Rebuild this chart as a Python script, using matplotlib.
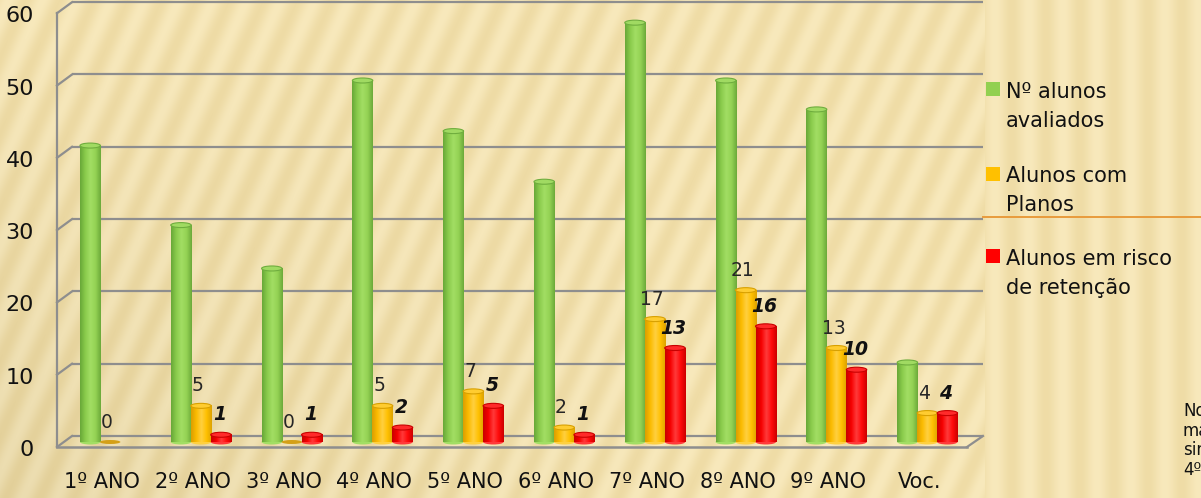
import numpy as np
import matplotlib
matplotlib.use('Agg')
import matplotlib.pyplot as plt
from matplotlib.patches import Ellipse, Rectangle
from matplotlib.colors import LinearSegmentedColormap, to_rgb

# ---------------- data ----------------
categories = ['1º ANO', '2º ANO', '3º ANO', '4º ANO', '5º ANO',
              '6º ANO', '7º ANO', '8º ANO', '9º ANO', 'Voc.']
avaliados = [41, 30, 24, 50, 43, 36, 58, 50, 46, 11]
planos = [0, 5, 0, 5, 7, 2, 17, 21, 13, 4]
risco = [None, 1, 1, 2, 5, 1, 13, 16, 10, 4]
series_labels = ['Nº alunos\navaliados', 'Alunos com\nPlanos', 'Alunos em risco\nde retenção']
y_ticks = [0, 10, 20, 30, 40, 50, 60]
side_note = ['No', 'ma', 'sin', '4º']

# ---------------- geometry / style ----------------
W, H = 1201, 498
X0, DX = 102.0, 90.8      # pixel of category 0, pixels per category
Y0, DY = 442.0, 7.23      # pixel of value 0, pixels per unit

def px2x(px):
    return (px - X0) / DX

def py2y(py):
    return (Y0 - py) / DY

fig = plt.figure(figsize=(W / 100, H / 100), dpi=100)

# background texture (subtle stripes)
bg = fig.add_axes([0, 0, 1, 1], zorder=-10)
yy, xx = np.mgrid[0:H, 0:W]
phase = np.where(xx < 985, xx + 0.45 * yy, xx)
t = 0.5 + 0.5 * np.sin(2 * np.pi * phase / 34.0)
light = np.array(to_rgb('#F8E9BC'))
dark = np.array(to_rgb('#EFDCA6'))
img = dark[None, None, :] * (1 - t[..., None]) + light[None, None, :] * t[..., None]
shade = (yy / H) * np.clip(1 - xx / 700, 0, 1) * 0.05
img = np.clip(img - shade[..., None], 0, 1)
bg.imshow(img, extent=[0, 1, 0, 1], aspect='auto', interpolation='bilinear')
bg.axis('off')

ax = fig.add_axes([0, 0, 1, 1])
ax.patch.set_alpha(0)
ax.axis('off')

grid_c = '#8E8E8E'
back_off = 6 / DY
front_off = -5 / DY
xb_l, xb_r = px2x(72), px2x(983)
xf_l, xf_r = px2x(57), px2x(967)

for v in y_ticks:
    ax.plot([xb_l, xb_r], [v + back_off, v + back_off], color=grid_c, lw=1.6, zorder=1,
            solid_capstyle='butt')
    ax.plot([xf_l, xb_l], [v + front_off, v + back_off], color=grid_c, lw=1.6, zorder=1)
    ax.text(px2x(34), v - 1.94, str(v), ha='right', va='baseline', fontsize=16,
            color='#111111')
ax.plot([xf_l, xf_l], [y_ticks[0] + front_off, y_ticks[-1] + front_off], color=grid_c,
        lw=1.6, zorder=1)
ax.plot([xf_l, xf_r], [front_off, front_off], color=grid_c, lw=1.8, zorder=1)
ax.plot([xf_r, xb_r], [front_off, back_off], color=grid_c, lw=1.6, zorder=1)

# decoration line on the right
ax.plot([xb_r, px2x(W)], [py2y(217), py2y(217)], color='#E89B3C', lw=1.4, zorder=1)

series = [avaliados, planos, risco]
offsets = [-0.13, 0.09, 0.31]
bar_w = 0.225
ell_h = 5 / DY
palettes = [
    dict(grad=['#68A838', '#8ACB4C', '#A2DE64', '#94D254', '#6CAA3A'], top='#A0DA62',
         rim='#6FAD3E', flat='#6AA83A', legend='#92D050'),
    dict(grad=['#DB9E00', '#FBBB00', '#FFD040', '#FFC000', '#DDA200'], top='#FFCC30',
         rim='#D8A000', flat='#D4A017', legend='#FFC000'),
    dict(grad=['#C80000', '#F50000', '#FF3A3A', '#FF0A0A', '#CC0000'], top='#FF2A2A',
         rim='#C80000', flat='#D00000', legend='#FF0000'),
]

for j, (vals, off, pal) in enumerate(zip(series, offsets, palettes)):
    cmap = LinearSegmentedColormap.from_list(f'c{j}', pal['grad'])
    grad = np.linspace(0, 1, 64)[None, :]
    for i, v in enumerate(vals):
        if v is None:
            continue
        xc = i + off
        z = 3 + j * 0.1 + i * 0.01
        if v > 0:
            ax.imshow(grad, cmap=cmap, extent=[xc - bar_w / 2, xc + bar_w / 2, 0, v],
                      aspect='auto', zorder=z, interpolation='bilinear')
            ax.add_patch(Ellipse((xc, 0), bar_w, ell_h, facecolor=pal['grad'][2],
                                 edgecolor='none', zorder=z - 0.001))
            ax.add_patch(Ellipse((xc, v), bar_w, ell_h, facecolor=pal['top'],
                                 edgecolor=pal['rim'], lw=0.8, zorder=z + 0.001))
        else:
            ax.add_patch(Ellipse((xc, 0), bar_w, ell_h * 0.8, facecolor=pal['flat'],
                                 edgecolor='none', zorder=z))
        if j == 1:
            ax.text(xc - 0.035, v + 2.0, str(v), ha='center', va='baseline', fontsize=13.5,
                    color='#262626', zorder=10)
        elif j == 2:
            ax.text(xc - 0.015, v + 2.0, str(v), ha='center', va='baseline', fontsize=13.5,
                    color='#111111', fontweight='bold', fontstyle='italic', zorder=10)

for i, c in enumerate(categories):
    ax.text(i, py2y(488), c, ha='center', va='baseline', fontsize=15, color='#111111')

ax.set_xlim(px2x(0), px2x(W))
ax.set_ylim(py2y(H), py2y(0))

# legend (manual, square aligned with first line)
leg_tops = [89.5, 173.5, 256.0]
for lab, pal, yc in zip(series_labels, palettes, leg_tops):
    fig.patches.append(Rectangle(((986) / W, 1 - (yc + 7) / H), 14 / W, 14 / H,
                                 transform=fig.transFigure, facecolor=pal['legend'],
                                 edgecolor='none', zorder=5))
    fig.text(1006 / W, 1 - (yc + 8.5) / H, lab.split('\n')[0], ha='left', va='baseline',
             fontsize=15, color='#111111')
    fig.text(1006 / W, 1 - (yc + 8.5 + 29) / H, lab.split('\n')[1], ha='left', va='baseline',
             fontsize=15, color='#111111')

# side note, cut off at the right edge as in the reference slide
for k, s in enumerate(side_note):
    fig.text(1183 / W, 1 - (416 + 19.5 * k) / H, s, ha='left', va='baseline', fontsize=12,
             color='#111111')

fig.savefig('out.png', dpi=100)
